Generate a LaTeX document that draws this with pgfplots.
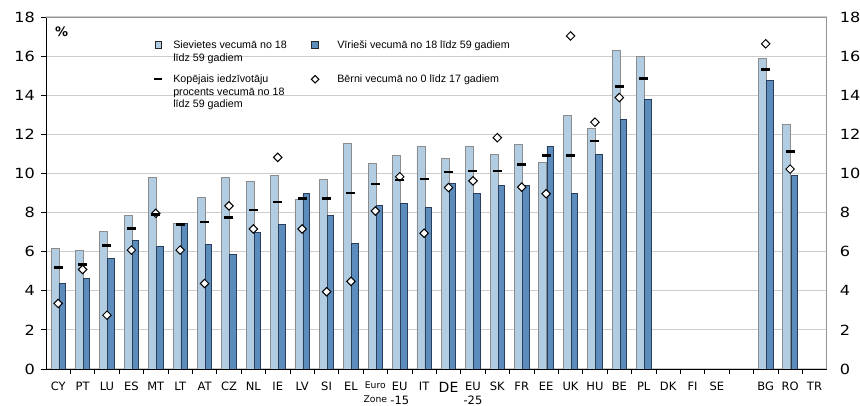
\documentclass[border=0pt]{standalone}
\usepackage{pgfplots}
\pgfplotsset{compat=1.18}
\usepackage{pgfplotstable}
\usepackage{fontspec}
\setmainfont{DejaVu Sans}
\newfontfamily\arial{Liberation Sans}
\definecolor{lightbar}{RGB}{178,205,226}
\definecolor{darkbar}{RGB}{91,140,187}
\definecolor{darkedge}{RGB}{40,62,90}
\definecolor{lightedge}{RGB}{140,140,140}
\definecolor{gridc}{RGB}{205,205,205}
\definecolor{framec}{RGB}{150,150,150}
\newcommand\sm{\fontsize{9.2}{11.5}\selectfont}
\newcommand\lgd[1]{\begin{tabular}[t]{@{}l@{}}#1\end{tabular}}

\pgfplotstableread{
x w m t c
0 6.17 4.36 5.18 3.35
1 6.05 4.63 5.33 5.09
2 7.03 5.64 6.32 2.75
3 7.86 6.56 7.19 6.08
4 9.79 6.27 7.90 7.96
5 7.44 7.44 7.40 6.08
6 8.77 6.37 7.52 4.37
7 9.79 5.84 7.74 8.34
8 9.59 6.97 8.13 7.16
9 9.90 7.38 8.53 10.82
10 8.67 8.97 8.73 7.16
11 9.71 7.85 8.73 3.95
12 11.54 6.44 8.99 4.48
13 10.51 8.37 9.45 8.08
14 10.92 8.46 9.67 9.83
15 11.38 8.26 9.72 6.94
16 10.77 9.50 10.07 9.28
17 11.38 8.97 10.13 9.62
18 10.97 9.37 10.13 11.83
19 11.50 9.40 10.45 9.30
20 10.56 11.38 10.92 8.96
21 12.97 8.97 10.92 17.03
22 12.32 10.97 11.66 12.62
23 16.30 12.77 14.46 13.88
24 15.98 13.79 14.87 nan
29 15.90 14.77 15.33 16.63
30 12.51 9.90 11.13 10.22
}\data

\begin{document}
\begin{tikzpicture}
\begin{axis}[
  scale only axis, width=780.7pt, height=352pt,
  xmin=-0.5, xmax=31.5, ymin=0, ymax=18,
  axis x line*=bottom, axis y line*=left,
  axis line style={black, line width=0.9pt},
  ytick={0,2,...,18},
  ymajorgrids, major grid style={gridc, line width=1pt},
  tick align=outside,
  ytick style={black, line width=0.8pt},
  major tick length=5pt,
  /pgf/number format/assume math mode=true,
  yticklabel={\scalebox{1.15}[1]{\pgfmathprintnumber{\tick}}},
  yticklabel style={font=\fontsize{14}{14}\selectfont, anchor=east, inner sep=0pt, xshift=-6pt},
  xtick={0,...,31},
  xticklabels={CY,PT,LU,ES,MT,LT,AT,CZ,NL,IE,LV,SI,EL,{{\sm Euro}\\{\sm Zone}},{EU\\-15},IT,{\fontsize{14}{14}\selectfont DE},{EU\\-25},SK,FR,EE,UK,HU,BE,PL,DK,FI,SE,{},BG,RO,TR},
  major x tick style={draw=none},
  minor xtick={0.5,1.5,...,30.5},
  minor x tick style={black, line width=0.8pt},
  minor tick length=5pt,
  xticklabel style={font=\fontsize{11.5}{14}\selectfont, align=center, anchor=north, inner sep=0pt, yshift=-8pt},
  legend columns=2,
  legend style={at={(axis description cs:0.137,0.941)}, anchor=north west, draw=none, fill=none,
    inner sep=0pt, font=\arial\fontsize{10.7}{12.5}\selectfont,
    cells={anchor=base west, inner sep=0pt},
    /tikz/every odd column/.append style={column sep=8pt},
    /tikz/every even column/.append style={column sep=22pt},
    row sep=20pt},
]
\addplot[ybar, bar width=8pt, bar shift=-3.3pt, fill=lightbar, draw=lightedge, line width=0.7pt, forget plot] table[x=x,y=w]{\data};
\addplot[ybar, bar width=6.5pt, bar shift=4pt, fill=darkbar, draw=darkedge, line width=0.7pt, forget plot] table[x=x,y=m]{\data};
\addplot[only marks, mark=square*, mark size=3pt, mark options={rotate=45, fill=white, draw=black, line width=1pt}, forget plot] table[x=x,y=c]{\data};
\addplot[only marks, mark=-, mark size=4.5pt, mark options={line width=2.6pt, black}, forget plot] table[x=x,y=t]{\data};

\addlegendimage{legend image code/.code={\draw[fill=lightbar, draw=black!85, line width=0.8pt] (0.5pt,0.3pt) rectangle (7pt,7.3pt);}}
\addlegendentry{\lgd{Sievietes vecumā no 18\\līdz 59 gadiem}}
\addlegendimage{legend image code/.code={\draw[fill=darkbar, draw=black!85, line width=0.8pt] (0.5pt,0.3pt) rectangle (7pt,7.3pt);}}
\addlegendentry{\hspace*{8pt}Vīrieši vecumā no 18 līdz 59 gadiem}
\addlegendimage{legend image code/.code={\draw[black, line width=2.6pt] (0pt,4pt) -- (7.5pt,4pt);}}
\addlegendentry{\lgd{Kopējais iedzīvotāju\\procents vecumā no 18\\līdz 59 gadiem}}
\addlegendimage{legend image code/.code={\draw[black, fill=white, line width=1pt] (3.75pt,0pt) -- (7.5pt,3.75pt) -- (3.75pt,7.5pt) -- (0pt,3.75pt) -- cycle;}}
\addlegendentry{\hspace*{8pt}Bērni vecumā no 0 līdz 17 gadiem}

\node[font=\bfseries\fontsize{13}{13}\selectfont] at (axis description cs:0.02,0.958) {\%};
\end{axis}
\begin{axis}[
  scale only axis, width=780.7pt, height=352pt,
  xmin=-0.5, xmax=31.5, ymin=0, ymax=18,
  axis x line*=top, axis y line*=right,
  axis line style={framec, line width=0.9pt},
  xtick=\empty,
  ytick={0,2,...,18},
  major tick length=0pt,
  /pgf/number format/assume math mode=true,
  yticklabel={\scalebox{1.15}[1]{\pgfmathprintnumber{\tick}}},
  yticklabel style={font=\fontsize{14}{14}\selectfont, anchor=west, inner sep=0pt, xshift=13pt},
]
\addplot[draw=none, forget plot] coordinates {(0,0)};
\end{axis}
\pgfresetboundingbox
\path[use as bounding box] (-46pt,-37pt) rectangle (814pt,369pt);
\end{tikzpicture}
\end{document}
